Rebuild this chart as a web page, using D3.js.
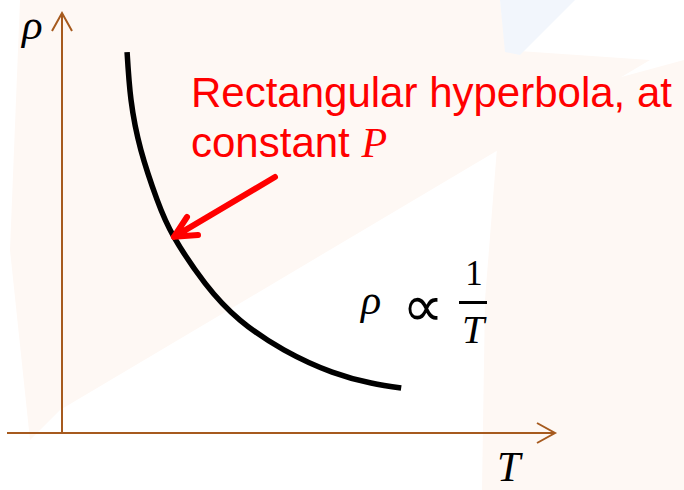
<!DOCTYPE html>
<html>
<head>
<meta charset="utf-8">
<script src="https://cdn.jsdelivr.net/npm/d3@7"></script>
<style>
  body { margin: 0; background: #fff; }
  svg { display: block; }
</style>
</head>
<body>
<div id="chart"></div>
<script>
// values (arbitrary units, axes meet at 0,0)
var temps     = [1.32, 1.40, 1.60, 1.93, 2.27, 2.90, 3.61, 4.50, 5.48, 6.27, 6.88];
var densities = [9.07, 7.93, 6.74, 5.55, 4.67, 3.57, 2.69, 1.98, 1.45, 1.19, 1.07];
var xLabel = 'T';
var yLabel = 'ρ';
var noteLines = ['Rectangular hyperbola, at', 'constant '];
var noteSymbol = 'P';

var dim = { width: 684, height: 490 };
var axisColor = '#a65a1e';
var serif = '"Liberation Serif", "DejaVu Serif", serif';
var sans = '"Liberation Sans", Arial, sans-serif';

var svg = d3.select('#chart').append('svg')
    .attr('width', dim.width)
    .attr('height', dim.height);

// faint watermark shapes behind the plot
var bg = svg.append('g');
var wm = [
    { c: '#fef8f4', p: [[20,0],[500,0],[506,50],[650,60],[60,410],[30,440],[10,250]] },
    { c: '#fef8f4', p: [[500,110],[684,60],[684,490],[482,490],[485,300]] },
    { c: '#f2f6fc', p: [[500,0],[575,0],[520,55],[505,52]] }
];
wm.forEach(function(s) {
    bg.append('path')
        .attr('d', 'M' + s.p.join('L') + 'Z')
        .attr('fill', s.c);
});

var x = d3.scaleLinear().domain([0, 10]).range([62, 555]);
var y = d3.scaleLinear().domain([0, 10]).range([433, 13]);

// axes
var axes = svg.append('g')
    .attr('stroke', axisColor)
    .attr('stroke-width', 2)
    .attr('fill', 'none');

axes.append('line')
    .attr('x1', 7).attr('y1', y(0))
    .attr('x2', x(10)).attr('y2', y(0));
axes.append('line')
    .attr('x1', x(0)).attr('y1', y(0))
    .attr('x2', x(0)).attr('y2', y(10));

axes.append('path')
    .attr('d', 'M' + (x(10) - 18) + ',' + (y(0) - 10) + 'L' + x(10) + ',' + y(0) + 'L' + (x(10) - 18) + ',' + (y(0) + 10));
axes.append('path')
    .attr('d', 'M' + (x(0) - 10) + ',' + (y(10) + 18) + 'L' + x(0) + ',' + y(10) + 'L' + (x(0) + 10) + ',' + (y(10) + 18));

svg.append('text')
    .attr('x', 22).attr('y', 39)
    .attr('font-family', serif).attr('font-style', 'italic')
    .attr('font-size', 43)
    .text(yLabel);

svg.append('text')
    .attr('x', 497).attr('y', 481)
    .attr('font-family', serif).attr('font-style', 'italic')
    .attr('font-size', 42)
    .text(xLabel);

// the curve
var pts = temps.map(function(t, i) { return { t: t, r: densities[i] }; });
var line = d3.line()
    .x(function(d) { return x(d.t); })
    .y(function(d) { return y(d.r); })
    .curve(d3.curveNatural);

svg.append('path')
    .datum(pts)
    .attr('d', line)
    .attr('fill', 'none')
    .attr('stroke', '#000')
    .attr('stroke-width', 5.5);

// red note and arrow
var note = svg.append('text')
    .attr('font-family', sans)
    .attr('font-size', 42)
    .attr('fill', '#ff0000');
note.append('tspan').attr('x', 191).attr('y', 107).text(noteLines[0]);
note.append('tspan').attr('x', 191).attr('y', 157).text(noteLines[1]);
note.append('tspan')
    .attr('font-family', serif).attr('font-style', 'italic')
    .text(noteSymbol);

var tip = [x(temps[4]), y(densities[4])];
svg.append('path')
    .attr('d', 'M275,177L' + tip.join(',') + 'M187,217L' + tip.join(',') + 'L198,235')
    .attr('fill', 'none')
    .attr('stroke', '#ff0000')
    .attr('stroke-width', 6)
    .attr('stroke-linecap', 'round')
    .attr('stroke-linejoin', 'round');

// rho ∝ 1/T
var f = svg.append('g');
f.append('text')
    .attr('x', 361).attr('y', 314)
    .attr('font-family', serif).attr('font-style', 'italic')
    .attr('font-size', 42)
    .text('ρ');
f.append('text')
    .attr('x', 423).attr('y', 326)
    .attr('text-anchor', 'middle')
    .attr('font-family', '"DejaVu Sans", sans-serif')
    .attr('font-size', 58)
    .text('∝');
f.append('text')
    .attr('x', 474).attr('y', 285)
    .attr('text-anchor', 'middle')
    .attr('font-family', serif)
    .attr('font-size', 35)
    .text('1');
f.append('line')
    .attr('x1', 459).attr('x2', 487)
    .attr('y1', 302.5).attr('y2', 302.5)
    .attr('stroke', '#000')
    .attr('stroke-width', 3);
f.append('text')
    .attr('x', 473).attr('y', 343)
    .attr('text-anchor', 'middle')
    .attr('font-family', serif).attr('font-style', 'italic')
    .attr('font-size', 40)
    .text('T');
</script>
</body>
</html>
